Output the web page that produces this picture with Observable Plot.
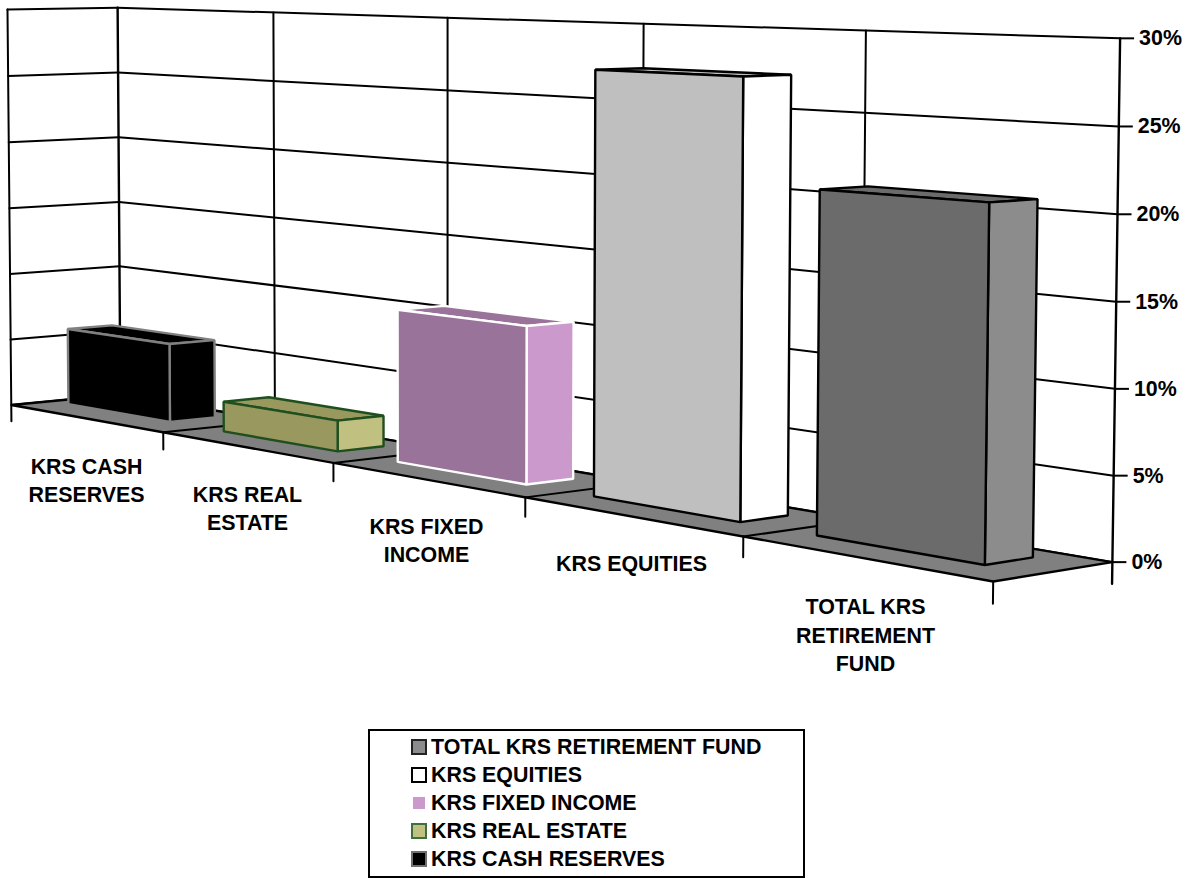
<!DOCTYPE html>
<html><head><meta charset="utf-8">
<script src="https://cdn.jsdelivr.net/npm/d3@7"></script>
<script src="https://cdn.jsdelivr.net/npm/@observablehq/plot@0.6"></script>
<style>
html,body{margin:0;padding:0;background:#fff;overflow:hidden}
body{font-family:"Liberation Sans",Arial,sans-serif}
#legend{box-sizing:border-box;position:absolute;left:368px;top:729px;width:437px;height:149px;border:2.5px solid #000;padding-top:1.5px}
.row{display:flex;align-items:center;height:28px;margin-left:41px;font-weight:bold;font-size:21.4px;line-height:28px;color:#000}
.sw{box-sizing:border-box;width:16px;height:16px;margin-right:4px;flex:none}
</style></head><body><div id="chart"></div><div id="legend"></div>
<script>
const categories = ["KRS CASH RESERVES","KRS REAL ESTATE","KRS FIXED INCOME","KRS EQUITIES","TOTAL KRS RETIREMENT FUND"];
const values = [5.75, 2.15, 10.4, 27.25, 20.75];
const ticks = [0,5,10,15,20,25,30];
const labelLines = ["KRS CASH\nRESERVES","KRS REAL\nESTATE","KRS FIXED\nINCOME","KRS EQUITIES","TOTAL KRS\nRETIREMENT\nFUND"];
const legendOrder = [4,3,2,1,0];

// styling per category
const frontFill = ["#000000","#99995f","#997399","#bfbfbf","#6b6b6b"];
const sideFill  = ["#000000","#c0c080","#cc99cc","#ffffff","#8c8c8c"];
const barStroke = ["#808080","#1f4f1f","#ffffff","#000000","#000000"];
const swatchFill = ["#000000","#c0c080","#cc99cc","#ffffff","#8c8c8c"];
const swatchStroke = ["#707070","#3f6f3f","#ffffff","#000000","#222222"];

// camera calibration: world [category, depth, value] -> page point
const calWorld = [[0,0,0],[1,0,0],[2,0,0],[3,0,0],[4,0,0],[5,0,0],[5,1,0],[0,1,0],
  [0,0,30],[0,1,30],[1,1,30],[2,1,30],[3,1,30],[4,1,30],[5,1,30],[0,0,15],[0,1,15],[5,1,15]];
const calPage = [[10.5,405],[163,432],[333,462],[525,497],[743,536],[992,581.5],[1111.7,562],[120,394],
  [7,9],[117,7],[272.7,12.3],[447,18],[643,24],[865.7,30],[1119.7,37.3],[9,207],[118.5,201],[1116,300]];

function solveCamera(){
  const A=[],b=[];
  calWorld.forEach(([X,Y,Z0],i)=>{
    const Z=Z0/30,x=calPage[i][0]/1000,y=calPage[i][1]/1000;
    A.push([X,Y,Z,1,0,0,0,0,-x*X,-x*Y,-x*Z]);b.push(x);
    A.push([0,0,0,0,X,Y,Z,1,-y*X,-y*Y,-y*Z]);b.push(y);
  });
  const n=11,M=d3.range(n).map(r=>d3.range(n+1).map(c=>{
    let s=0;A.forEach((row,k)=>{s+=row[r]*(c<n?row[c]:b[k]);});return s;}));
  for(let i=0;i<n;i++){
    let p=i;for(let r=i+1;r<n;r++)if(Math.abs(M[r][i])>Math.abs(M[p][i]))p=r;
    [M[i],M[p]]=[M[p],M[i]];
    for(let r=0;r<n;r++){if(r===i)continue;const f=M[r][i]/M[i][i];for(let c=i;c<=n;c++)M[r][c]-=f*M[i][c];}
  }
  return M.map((r,i)=>r[n]/r[i]);
}
const P=solveCamera();
function project([X,Y,Z0]){
  const Z=Z0/30,w=P[8]*X+P[9]*Y+P[10]*Z+1;
  return [1000*(P[0]*X+P[1]*Y+P[2]*Z+P[3])/w,1000*(P[4]*X+P[5]*Y+P[6]*Z+P[7])/w];
}
const px=d=>project(d)[0], py=d=>project(d)[1];

const barU=[0.115,0.783], barStep=[1.0028,1.0045], barV=[0.365,0.77];
const tickDrop=-1.25;
const labelY=[478.5,506.5,538.5,561,633];
const labelX=[86,247,426,631,865];

const seg=(a,b,o={})=>Plot.line([a,b],{x:px,y:py,stroke:"#000",strokeWidth:2,...o});
const poly=(pts,o)=>Plot.line(pts,{x:px,y:py,curve:"linear-closed",strokeLinejoin:"miter",strokeWidth:2.4,...o});

const marks=[];
// walls
ticks.forEach(t=>{
  marks.push(seg([0,0,t],[0,1,t]));
  marks.push(seg([0,1,t],[5,1,t]));
});
marks.push(seg([0,0,tickDrop],[0,0,30]));
d3.range(0,6).forEach(u=>marks.push(seg([u,1,u===5?tickDrop:0],[u,1,30],{strokeWidth:u===0||u===5?2.4:2})));
// floor
marks.push(poly([[0,0,0],[5,0,0],[5,1,0],[0,1,0]],{fill:"#808080",stroke:"#000"}));
d3.range(1,5).forEach(u=>marks.push(seg([u,0,0],[u,1,0])));
d3.range(1,6).forEach(u=>marks.push(seg([u,0,tickDrop],[u,0,0])));
// bars
values.forEach((v,i)=>{
  const a=i*barStep[0]+barU[0],b=i*barStep[1]+barU[1],[f,k]=barV;
  const s={stroke:barStroke[i]};
  marks.push(poly([[a,f,v],[b,f,v],[b,k,v],[a,k,v]],{fill:frontFill[i],...s}));
  marks.push(poly([[b,f,0],[b,k,0],[b,k,v],[b,f,v]],{fill:sideFill[i],...s}));
  marks.push(poly([[a,f,0],[b,f,0],[b,f,v],[a,f,v]],{fill:frontFill[i],...s}));
});
// right axis
marks.push(Plot.link(ticks,{x1:t=>px([5,1,t]),x2:t=>px([5,1,t])+14,y1:t=>py([5,1,t]),y2:t=>py([5,1,t]),stroke:"#000",strokeWidth:2}));
marks.push(Plot.text(ticks,{x:t=>px([5,1,t])+19,y:t=>py([5,1,t]),text:t=>t+"%",textAnchor:"start",fontSize:21.4,fontWeight:"bold",fill:"#000"}));
// category labels
marks.push(Plot.text(labelLines,{x:(d,i)=>labelX[i],y:(d,i)=>labelY[i],text:d=>d,textAnchor:"middle",lineHeight:1.32,fontSize:21.4,fontWeight:"bold",fill:"#000"}));

const chart=Plot.plot({width:1192,height:729,margin:0,
  style:{fontFamily:"'Liberation Sans',Arial,sans-serif",background:"#fff"},
  x:{domain:[0,1192],range:[0,1192],axis:null},
  y:{domain:[0,729],range:[0,729],axis:null},marks});
document.getElementById("chart").appendChild(chart);

const lg=document.getElementById("legend");
legendOrder.forEach(i=>{
  const r=document.createElement("div");r.className="row";
  const s=document.createElement("span");s.className="sw";
  s.style.background=swatchFill[i];s.style.border=`2.5px solid ${swatchStroke[i]}`;
  const t=document.createElement("span");t.textContent=categories[i];
  r.append(s,t);lg.append(r);
});
</script></body></html>
